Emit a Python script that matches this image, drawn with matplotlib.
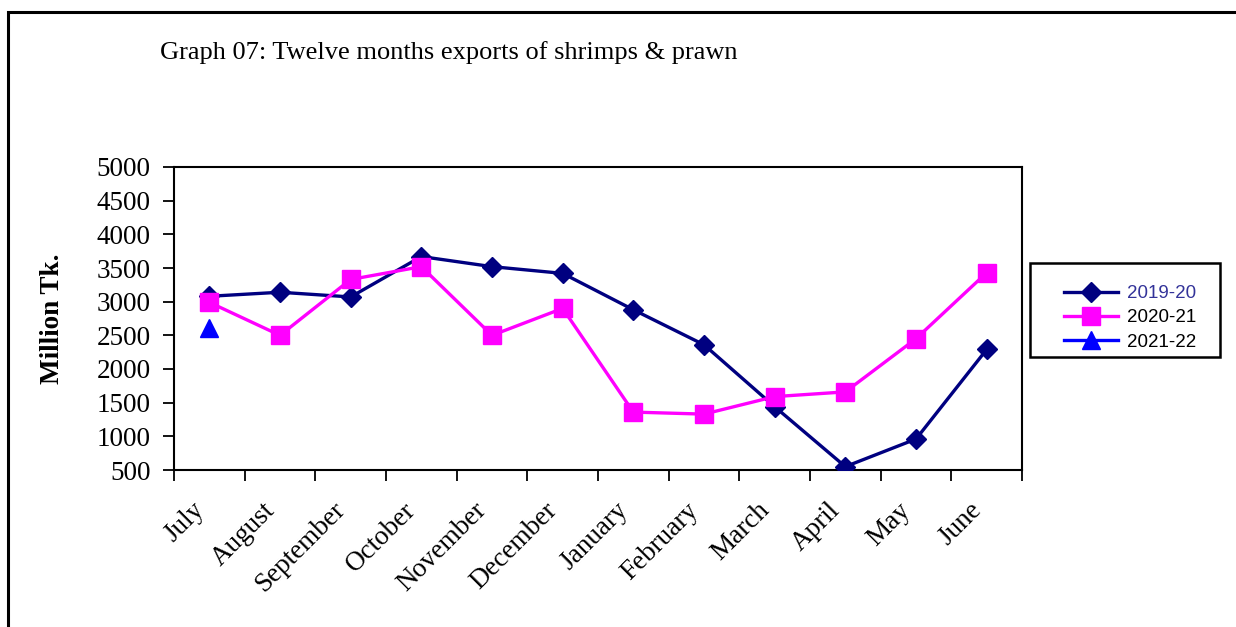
import matplotlib
matplotlib.use("Agg")
import matplotlib.pyplot as plt
from matplotlib.patches import Rectangle
from matplotlib.transforms import ScaledTranslation
import numpy as np

months = ["July", "August", "September", "October", "November", "December",
          "January", "February", "March", "April", "May", "June"]
s2019_20 = [3080, 3140, 3070, 3670, 3520, 3420, 2880, 2360, 1440, 550, 960, 2290]
s2020_21 = [2990, 2500, 3330, 3520, 2500, 2900, 1360, 1330, 1590, 1660, 2450, 3430]
s2021_22 = [2610]
y_ticks = [500, 1000, 1500, 2000, 2500, 3000, 3500, 4000, 4500, 5000]

W, H = 1236, 627
fig = plt.figure(figsize=(W / 100, H / 100), dpi=100)
fig.patch.set_facecolor("white")

serif = ["Liberation Serif", "DejaVu Serif"]
sans = ["Liberation Sans", "DejaVu Sans"]
FS = 19.5

# outer frame
fig.patches.append(Rectangle((8 / W, -0.1), 1.2, 1 - 12 / H + 0.1,
                             transform=fig.transFigure, fill=False,
                             edgecolor="black", linewidth=2.2))

ax = fig.add_axes([174 / W, 1 - 470 / H, (1022 - 174) / W, (470 - 167) / H])
x = np.arange(len(months))
ax.plot(x, s2019_20, color="#000080", linewidth=2.4, marker="D", markersize=10,
        label="2019-20", zorder=3)
ax.plot(x, s2020_21, color="#FF00FF", linewidth=2.4, marker="s", markersize=12.5,
        label="2020-21", zorder=4)
ax.plot(x[:len(s2021_22)], s2021_22, color="#0000FF", linewidth=2.4, marker="^",
        markersize=13, label="2021-22", zorder=5)

ax.set_xlim(-0.5, len(months) - 0.5)
ax.set_ylim(500, 5000)
ax.set_yticks(y_ticks)
ax.set_yticklabels([str(v) for v in y_ticks], fontfamily=serif, fontsize=FS)
ax.tick_params(axis="y", direction="out", length=8, width=1.3, pad=9)

ax.set_xticks(np.arange(len(months) + 1) - 0.5)
ax.set_xticklabels([])
ax.set_xticks(x, minor=True)
ax.set_xticklabels(months, minor=True, rotation=45, ha="right", va="top",
                   rotation_mode="anchor", fontfamily=serif, fontsize=FS)
ax.tick_params(axis="x", which="major", direction="out", length=8, width=1.3)
ax.tick_params(axis="x", which="minor", length=0, pad=20)
off = ScaledTranslation(-18 / 100, 0, fig.dpi_scale_trans)
for lbl in ax.get_xticklabels(minor=True):
    lbl.set_transform(lbl.get_transform() + off)

for sp in ax.spines.values():
    sp.set_linewidth(1.5)
    sp.set_color("black")

ax.set_ylabel("Million Tk.", fontfamily=serif, fontsize=FS, fontweight="bold")
ax.yaxis.set_label_coords((65 - 174) / (1022 - 174), 0.5)

fig.text(160 / W, 1 - 53 / H, "Graph 07: Twelve months exports of shrimps & prawn",
         fontfamily=serif, fontsize=19, ha="left", va="center")

# legend box
fig.patches.append(Rectangle((1030 / W, 1 - 357 / H), 190 / W, 94 / H,
                             transform=fig.transFigure, fill=False,
                             edgecolor="black", linewidth=1.8))
leg = ax.legend(loc="upper left", bbox_to_anchor=(1064 / W, 1 - 285 / H),
                bbox_transform=fig.transFigure,
                prop={"family": sans, "size": 13.5}, frameon=False,
                handlelength=2.9, borderpad=0, labelspacing=0.38,
                handletextpad=0.45, borderaxespad=0)
leg.get_texts()[0].set_color("#333399")

fig.savefig("out.png", dpi=100, facecolor="white")
